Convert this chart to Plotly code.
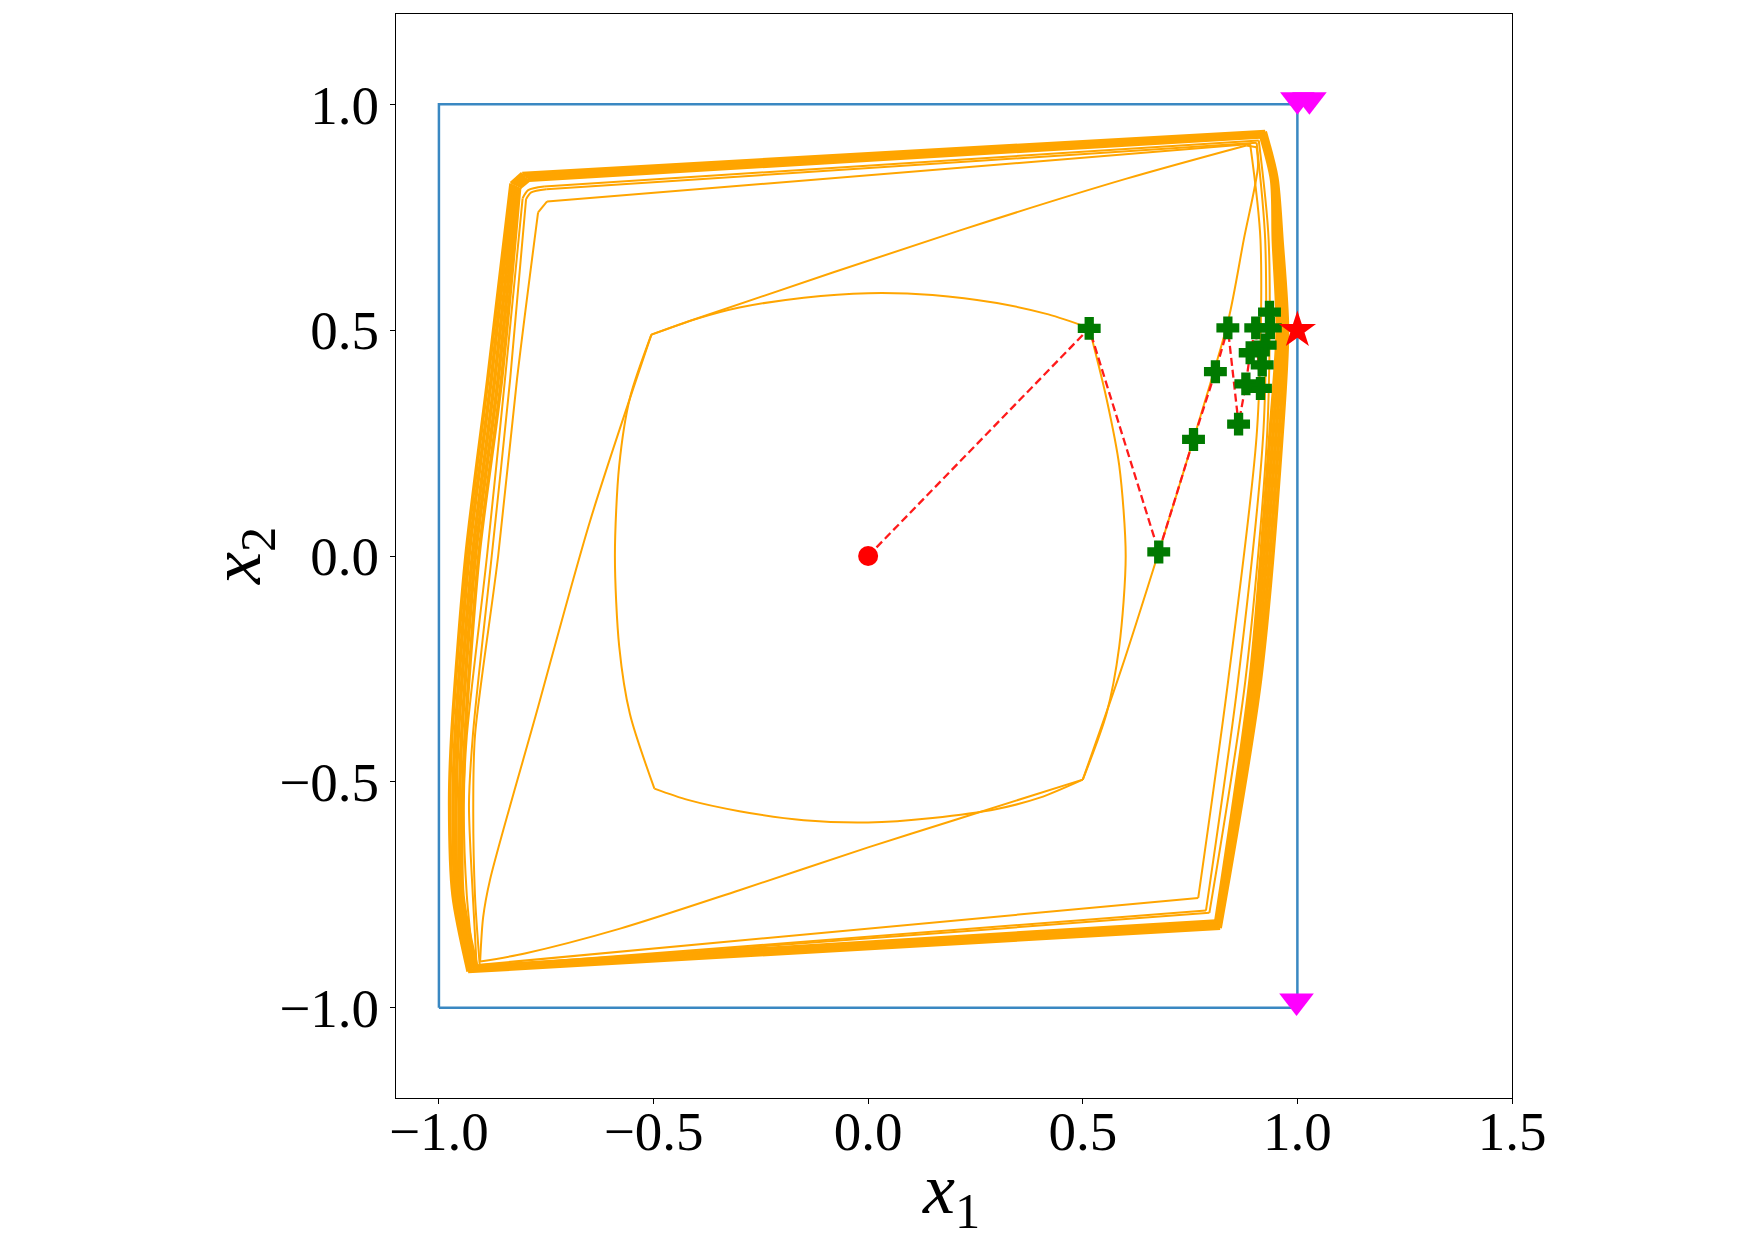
import plotly.graph_objects as go

# ---------------- data ----------------
x_ticks = [-1.0, -0.5, 0.0, 0.5, 1.0, 1.5]
y_ticks = [-1.0, -0.5, 0.0, 0.5, 1.0]

# bounding box (blue)
box_x = [-1.0, 1.0, 1.0, -1.0, -1.0]
box_y = [-1.0, -1.0, 1.0, 1.0, -1.0]

# inner curved loop
loopA_x = [-0.505, -0.40, -0.30, -0.15, 0.0, 0.15, 0.30, 0.42, 0.515, 0.555, 0.585, 0.60, 0.585, 0.555, 0.50,
           0.40, 0.30, 0.15, 0.0, -0.15, -0.30, -0.42, -0.498, -0.555, -0.58, -0.59, -0.58, -0.555, -0.505]
loopA_y = [0.49, 0.525, 0.55, 0.572, 0.582, 0.578, 0.56, 0.535, 0.505, 0.35, 0.2, 0.0, -0.2, -0.35, -0.495,
           -0.535, -0.56, -0.58, -0.59, -0.585, -0.565, -0.54, -0.515, -0.35, -0.2, 0.0, 0.2, 0.35, 0.49]
loopA_corners = [0, 8, 14, 22, 28]

# second loop
loopB_x = [-0.505, -0.411, 0.214, 0.60, 0.881, 0.905, 0.908, 0.875, 0.839, 0.758, 0.677, 0.59, 0.50, 0.20, 0.0,
           -0.30, -0.578, -0.80, -0.904, -0.897, -0.881, -0.775, -0.648, -0.505]
loopB_y = [0.49, 0.522, 0.721, 0.835, 0.909, 0.905, 0.861, 0.70, 0.522, 0.259, 0.009, -0.25, -0.495, -0.585, -0.645,
           -0.74, -0.825, -0.88, -0.898, -0.80, -0.717, -0.355, 0.077, 0.49]
loopB_corners = [0, 4, 5, 12, 18, 23]

# outer loops
loopC1_x = [-0.769, -0.748, 0.89, 0.914, 0.906, 0.839, 0.769, -0.905, -0.916, -0.92, -0.916, -0.862, -0.818, -0.769]
loopC1_y = [0.761, 0.785, 0.912, 0.70, 0.279, -0.274, -0.757, -0.905, -0.752, -0.55, -0.398, 0.0, 0.392, 0.761]
loopC1_corners = [0, 1, 2, 6, 7, 13]

loopC2_x = [-0.797, -0.785, -0.75, 0.905, 0.925, 0.921, 0.862, 0.787, -0.912, -0.921, -0.93, -0.921, -0.877, -0.834, -0.797]
loopC2_y = [0.79, 0.805, 0.812, 0.915, 0.70, 0.279, -0.274, -0.785, -0.91, -0.752, -0.55, -0.398, 0.0, 0.392, 0.79]
loopC2_corners = [0, 2, 3, 7, 8, 14]

loopC3_x = [-0.805, -0.792, -0.755, 0.91, 0.933, 0.930, 0.879, 0.795, -0.918, -0.935, -0.942, -0.935, -0.888, -0.846, -0.805]
loopC3_y = [0.792, 0.81, 0.818, 0.92, 0.70, 0.279, -0.274, -0.79, -0.912, -0.752, -0.55, -0.398, 0.0, 0.392, 0.792]
loopC3_corners = [0, 2, 3, 7, 8, 14]

loopC4_x = [-0.812, -0.79, 0.915, 0.94, 0.944, 0.953, 0.937, 0.890, 0.81, -0.912, -0.944, -0.945, -0.939, -0.907, -0.854, -0.812]
loopC4_y = [0.815, 0.832, 0.928, 0.832, 0.70, 0.5, 0.279, -0.274, -0.808, -0.908, -0.752, -0.55, -0.398, 0.0, 0.392, 0.815]

loopC5_x = [-0.817, -0.794, 0.918, 0.943, 0.949, 0.959, 0.944, 0.896, 0.813, -0.917, -0.950, -0.952, -0.947, -0.915, -0.862, -0.817]
loopC5_y = [0.818, 0.835, 0.931, 0.834, 0.70, 0.5, 0.279, -0.274, -0.812, -0.911, -0.752, -0.55, -0.398, 0.0, 0.392, 0.818]

loopC6_x = [-0.822, -0.798, 0.92, 0.946, 0.954, 0.965, 0.951, 0.902, 0.816, -0.922, -0.956, -0.96, -0.955, -0.922, -0.870, -0.822]
loopC6_y = [0.82, 0.839, 0.934, 0.835, 0.70, 0.5, 0.279, -0.274, -0.816, -0.914, -0.752, -0.55, -0.398, 0.0, 0.392, 0.82]

loopC7_x = [-0.827, -0.802, 0.922, 0.949, 0.959, 0.971, 0.958, 0.908, 0.818, -0.927, -0.961, -0.967, -0.962, -0.93, -0.878, -0.827]
loopC7_y = [0.822, 0.843, 0.937, 0.836, 0.70, 0.5, 0.279, -0.274, -0.82, -0.917, -0.752, -0.55, -0.398, 0.0, 0.392, 0.822]

loopC8_x = [-0.832, -0.806, 0.925, 0.952, 0.964, 0.977, 0.965, 0.914, 0.82, -0.932, -0.967, -0.975, -0.97, -0.937, -0.886, -0.832]
loopC8_y = [0.825, 0.847, 0.94, 0.838, 0.70, 0.5, 0.279, -0.274, -0.824, -0.92, -0.752, -0.55, -0.398, 0.0, 0.392, 0.825]
thick_corners = [0, 1, 2, 8, 9, 15]

# trajectory
traj_x = [0.0, 0.515, 0.677, 0.758, 0.809, 0.838, 0.863, 0.880, 0.890, 0.903, 0.914, 0.918, 0.925, 0.935, 0.937]
traj_y = [0.0, 0.504, 0.009, 0.258, 0.408, 0.505, 0.292, 0.381, 0.450, 0.505, 0.371, 0.423, 0.467, 0.540, 0.505]

start_x = [0.0]
start_y = [0.0]
goal_x = [1.0]
goal_y = [0.5]
tri_x = [1.0, 1.028, 0.998]
tri_y = [1.01, 1.01, -0.985]

# ---------------- figure ----------------
ORANGE = "#FFA500"
fig = go.Figure()


def add_loop(xs, ys, corners, width):
    # each edge between two corners is drawn as its own smooth curve
    for a, b in zip(corners[:-1], corners[1:]):
        seg_x = xs[a:b + 1]
        seg_y = ys[a:b + 1]
        fig.add_trace(go.Scatter(x=seg_x, y=seg_y, mode="lines",
                                 line=dict(color=ORANGE, width=width, shape="spline", smoothing=0.8),
                                 showlegend=False, hoverinfo="skip"))


add_loop(loopA_x, loopA_y, loopA_corners, 2)
add_loop(loopB_x, loopB_y, loopB_corners, 2)
add_loop(loopC1_x, loopC1_y, loopC1_corners, 2)
add_loop(loopC2_x, loopC2_y, loopC2_corners, 2)
add_loop(loopC3_x, loopC3_y, loopC3_corners, 2)
for lx, ly in [(loopC4_x, loopC4_y), (loopC5_x, loopC5_y), (loopC6_x, loopC6_y),
               (loopC7_x, loopC7_y), (loopC8_x, loopC8_y)]:
    add_loop(lx, ly, thick_corners, 3.6)

fig.add_trace(go.Scatter(x=box_x, y=box_y, mode="lines", line=dict(color="#3a88c2", width=2.5), showlegend=False))

fig.add_trace(go.Scatter(x=traj_x, y=traj_y, mode="lines",
                         line=dict(color="#ff1a1a", width=2.3, dash="8px,4px"), showlegend=False))
fig.add_trace(go.Scatter(x=traj_x[1:], y=traj_y[1:], mode="markers",
                         marker=dict(symbol="cross", size=17, color="#007a00",
                                     line=dict(color="#007a00", width=2.5)), showlegend=False))
fig.add_trace(go.Scatter(x=start_x, y=start_y, mode="markers",
                         marker=dict(symbol="circle", size=20, color="#ff0000"), showlegend=False))
fig.add_trace(go.Scatter(x=goal_x, y=goal_y, mode="markers",
                         marker=dict(symbol="star", size=28, color="#ff0000"), showlegend=False))
fig.add_trace(go.Scatter(x=tri_x, y=tri_y, mode="markers",
                         marker=dict(symbol="triangle-down", size=30, color="#ff00ff"), showlegend=False))

FONT = "Liberation Serif"
axis_common = dict(
    showgrid=False, zeroline=False, showline=True, mirror=True,
    linecolor="black", linewidth=1, ticks="outside", ticklen=5, tickwidth=1,
    tickcolor="black", tickfont=dict(family=FONT, size=55, color="black"),
    tickformat=".1f",
)
fig.update_layout(
    width=1755, height=1240,
    margin=dict(l=396, r=243, t=14, b=142),
    paper_bgcolor="white", plot_bgcolor="white",
    xaxis=dict(range=[-1.1, 1.5], tickvals=x_ticks, ticklabelstandoff=-20, **axis_common),
    yaxis=dict(range=[-1.2, 1.2], tickvals=y_ticks, **axis_common),
    annotations=[
        dict(text="<i>x</i><sub>1</sub>", xref="paper", yref="paper", x=0.4975, y=-0.089,
             xanchor="center", yanchor="middle", showarrow=False,
             font=dict(family=FONT, size=72, color="black")),
        dict(text="<i>x</i><sub>2</sub>", xref="paper", yref="paper", x=-0.139, y=0.5,
             xanchor="center", yanchor="middle", showarrow=False, textangle=-90,
             font=dict(family=FONT, size=72, color="black")),
    ],
)

fig.write_html("out.html")
